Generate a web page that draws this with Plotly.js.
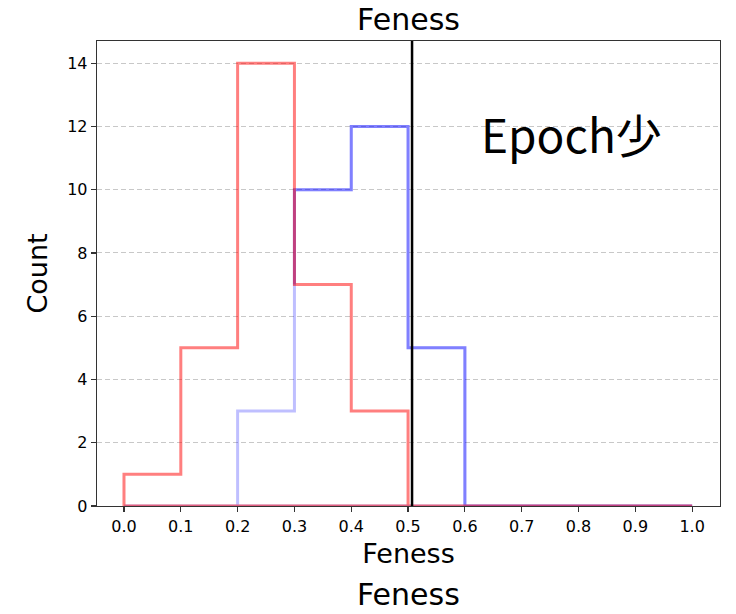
<!DOCTYPE html>
<html>
<head>
<meta charset="utf-8">
<script src="https://cdn.plot.ly/plotly-3.0.1.min.js"></script>
<style>
  html, body { margin: 0; padding: 0; background: #ffffff; }
  #chart { width: 736px; height: 614px; }
</style>
</head>
<body>
<div id="chart"></div>
<script>
// Histogram bin edges and counts for the two groups
const binEdges = [0.0, 0.1, 0.2, 0.3, 0.4, 0.5, 0.6, 0.7, 0.8, 0.9, 1.0];
const redCounts = [1, 5, 14, 7, 3, 0, 0, 0, 0, 0];
const blueCounts = [0, 0, 3, 10, 12, 5, 0, 0, 0, 0];
const thresholdX = 0.507;
const xTickLabels = ["0.0", "0.1", "0.2", "0.3", "0.4", "0.5", "0.6", "0.7", "0.8", "0.9", "1.0"];
const yTickValues = [0, 2, 4, 6, 8, 10, 12, 14];
const titleText = "Feness";
const xLabel = "Feness";
const yLabel = "Count";
const noteText = "Epoch少";

const FONT = '"DejaVu Sans", "Noto Sans CJK JP", sans-serif';
const NOTE_FONT = '"Noto Sans CJK JP", "DejaVu Sans", sans-serif';

// Closed step outline of a histogram (top steps plus the baseline)
function stepOutline(edges, counts) {
  const xs = [edges[0]], ys = [0];
  for (let i = 0; i < counts.length; i++) {
    xs.push(edges[i], edges[i + 1]);
    ys.push(counts[i], counts[i]);
  }
  xs.push(edges[edges.length - 1], edges[0]);
  ys.push(0, 0);
  return { x: xs, y: ys };
}

// Open step path starting at bin `start`, rising from level `fromLevel`
function stepFrom(edges, counts, start, fromLevel) {
  const xs = [edges[start]], ys = [fromLevel];
  for (let i = start; i < counts.length; i++) {
    xs.push(edges[i], edges[i + 1]);
    ys.push(counts[i], counts[i]);
  }
  xs.push(edges[edges.length - 1]);
  ys.push(0);
  return { x: xs, y: ys };
}

const blueAll = stepOutline(binEdges, blueCounts);
const redAll = stepOutline(binEdges, redCounts);

// First bin where the blue group exceeds the red group
let firstAbove = 0;
while (firstAbove < blueCounts.length && blueCounts[firstAbove] <= redCounts[firstAbove]) firstAbove++;
const blueUpper = stepFrom(binEdges, blueCounts, firstAbove, redCounts[firstAbove]);

const traces = [
  { x: blueAll.x, y: blueAll.y, type: 'scatter', mode: 'lines',
    line: { color: 'rgba(0,0,255,0.25)', width: 3 }, hoverinfo: 'skip', showlegend: false },
  { x: blueUpper.x, y: blueUpper.y, type: 'scatter', mode: 'lines',
    line: { color: 'rgba(0,0,255,0.33)', width: 3 }, hoverinfo: 'skip', showlegend: false },
  { x: redAll.x, y: redAll.y, type: 'scatter', mode: 'lines',
    line: { color: 'rgba(255,0,0,0.5)', width: 3 }, hoverinfo: 'skip', showlegend: false }
];

const layout = {
  width: 736,
  height: 614,
  paper_bgcolor: '#ffffff',
  plot_bgcolor: '#ffffff',
  margin: { l: 97, r: 16, t: 41, b: 108, pad: 0 },
  font: { family: FONT, color: '#000000' },
  showlegend: false,
  title: {
    text: titleText,
    font: { family: FONT, size: 30, color: '#000000' },
    x: 0.5, xref: 'paper', xanchor: 'center',
    y: 1 - 19 / 614, yref: 'container', yanchor: 'middle'
  },
  xaxis: {
    range: [-0.0475, 1.049],
    tickmode: 'array',
    tickvals: binEdges,
    ticktext: xTickLabels,
    ticks: 'outside', ticklen: 5, tickwidth: 1.2, tickcolor: '#333333',
    tickfont: { family: FONT, size: 16, color: '#000000' },
    showline: true, mirror: true, linecolor: '#333333', linewidth: 1.3,
    showgrid: false, zeroline: false,
    title: { text: xLabel, font: { family: FONT, size: 27, color: '#000000' }, standoff: 9 }
  },
  yaxis: {
    range: [0, 14.7],
    tickmode: 'array',
    tickvals: yTickValues,
    ticks: 'outside', ticklen: 5, tickwidth: 1.2, tickcolor: '#333333',
    tickfont: { family: FONT, size: 16, color: '#000000' },
    showline: true, mirror: true, linecolor: '#333333', linewidth: 1.3,
    showgrid: true, gridcolor: '#c8c8c8', griddash: '5px,3px', gridwidth: 1,
    zeroline: false,
    title: { text: yLabel, font: { family: FONT, size: 27, color: '#000000' }, standoff: 11 }
  },
  shapes: [
    { type: 'line', xref: 'x', yref: 'paper', x0: thresholdX, x1: thresholdX, y0: 0, y1: 1,
      line: { color: '#000000', width: 2.5 } }
  ],
  annotations: [
    { text: noteText, xref: 'x', yref: 'y', x: 0.787, y: 11.8, showarrow: false,
      xanchor: 'center', yanchor: 'middle',
      font: { family: NOTE_FONT, size: 46, color: '#000000' } },
    { text: xLabel, xref: 'paper', yref: 'paper', x: 0.5, y: -(594 - 506) / 465, showarrow: false,
      xanchor: 'center', yanchor: 'middle',
      font: { family: FONT, size: 30, color: '#000000' } }
  ]
};

Plotly.newPlot('chart', traces, layout, { staticPlot: true, displayModeBar: false });
</script>
</body>
</html>
